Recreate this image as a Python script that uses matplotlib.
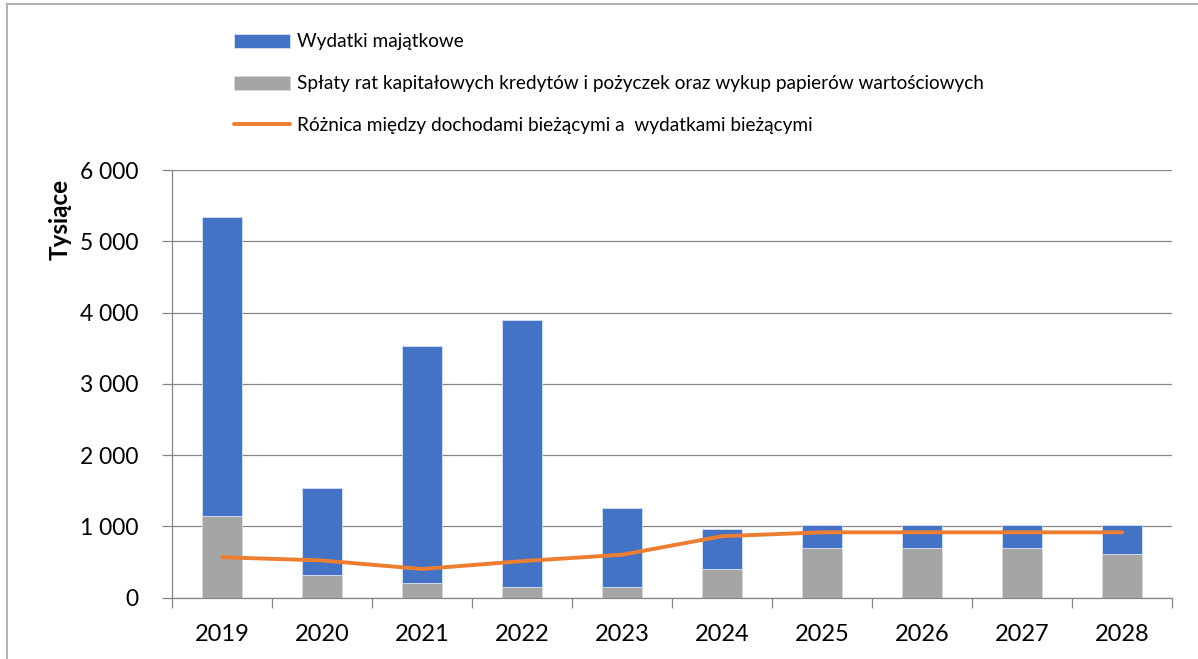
import matplotlib
matplotlib.use("Agg")
import matplotlib.pyplot as plt
from matplotlib.lines import Line2D
from matplotlib.ticker import FuncFormatter, FixedLocator
import numpy as np

years = ["2019", "2020", "2021", "2022", "2023", "2024", "2025", "2026", "2027", "2028"]
# Spłaty rat (gray, bottom)
splaty = [1140, 320, 205, 150, 150, 400, 690, 690, 690, 615]
# Totals (top of blue bar)
totals = [5345, 1535, 3535, 3895, 1255, 965, 1015, 1015, 1015, 1015]
wydatki = [t - s for t, s in zip(totals, splaty)]
roznica = [565, 520, 400, 510, 600, 860, 915, 915, 915, 915]

lab_wyd = "Wydatki majątkowe"
lab_spl = "Spłaty rat kapitałowych kredytów i pożyczek oraz wykup papierów wartościowych"
lab_roz = "Różnica między dochodami bieżącymi a  wydatkami bieżącymi"

plt.rcParams['font.family'] = ['Lato', 'DejaVu Sans']

W, H = 1198, 659
fig = plt.figure(figsize=(W / 100, H / 100), dpi=100)
ax = fig.add_axes([172 / W, 1 - 597.5 / H, 1000 / W, (597.5 - 170) / H])

blue = "#4472C4"
gray = "#A5A5A5"
orange = "#ED7D31"
axcol = "#868686"

x = np.arange(len(years))
b1 = ax.bar(x, splaty, width=0.4, color=gray, edgecolor="#D9D9D9", linewidth=0.6, label=lab_spl, zorder=2)
b2 = ax.bar(x, wydatki, width=0.4, bottom=splaty, color=blue, edgecolor="#D9E1F2", linewidth=0.6, label=lab_wyd, zorder=2)
ln, = ax.plot(x, roznica, color=orange, linewidth=2.8, solid_capstyle="round", label=lab_roz, zorder=3)

ax.set_xlim(-0.5, len(years) - 0.5)
ax.set_ylim(0, 6000)
ax.set_yticks(np.arange(0, 6001, 1000))
ax.yaxis.set_major_formatter(FuncFormatter(lambda v, p: f"{int(v):,}".replace(",", " ")))
ax.grid(axis="y", color=axcol, linewidth=0.9, zorder=0)
ax.set_axisbelow(True)

ax.set_xticks(x)
ax.set_xticklabels(years)
ax.xaxis.set_minor_locator(FixedLocator(np.arange(-0.5, len(years), 1.0)))
ax.tick_params(axis="x", which="major", length=0, pad=19, labelsize=17)
ax.tick_params(axis="x", which="minor", length=7, width=0.9, color=axcol)
ax.tick_params(axis="y", length=7, width=0.9, color=axcol, labelsize=16.4, pad=17)

for s in ["top", "right"]:
    ax.spines[s].set_visible(False)
for s in ["left", "bottom"]:
    ax.spines[s].set_color(axcol)
    ax.spines[s].set_linewidth(0.9)

fig.text(60 / W, 1 - 219 / H, "Tysiące", rotation=90, ha="center", va="center",
         fontsize=17.5, fontweight="bold")

leg = fig.legend([b2, b1, ln], [lab_wyd, lab_spl, lab_roz],
                 loc="upper left", bbox_to_anchor=(234 / W, 1 - 33.5 / H),
                 frameon=False, fontsize=13.7, handlelength=2.95, handleheight=0.74,
                 handletextpad=0.35, labelspacing=1.3, borderaxespad=0, borderpad=0)

# figure border (partially visible)
fig.add_artist(Line2D([7 / W, 7 / W], [0, 1 - 4 / H], transform=fig.transFigure, color="#A6A6A6", linewidth=1.2))
fig.add_artist(Line2D([7 / W, 1], [1 - 4 / H, 1 - 4 / H], transform=fig.transFigure, color="#A6A6A6", linewidth=1.2))

fig.savefig("out.png", dpi=100)
